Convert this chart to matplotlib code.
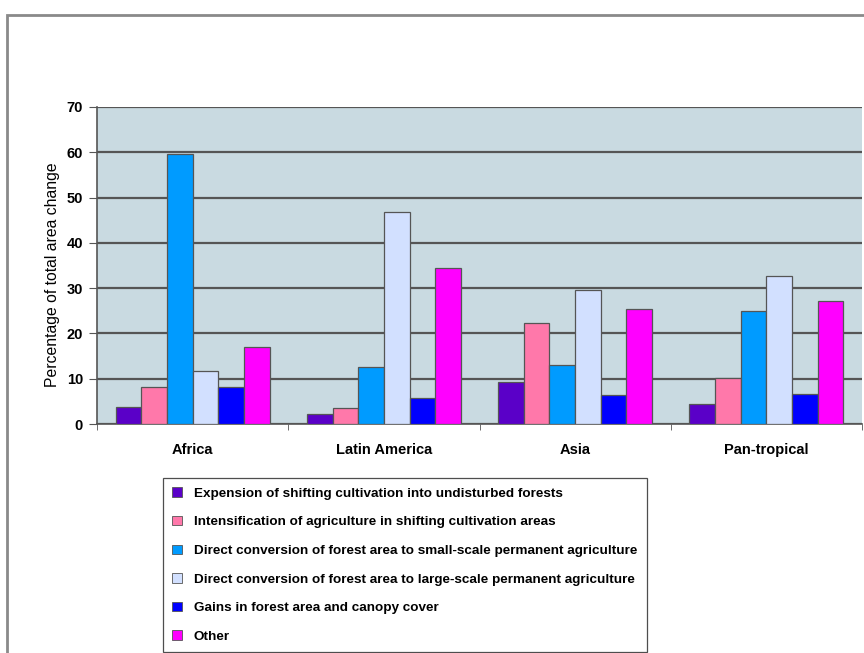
import matplotlib
matplotlib.use("Agg")
import numpy as np
import matplotlib.pyplot as plt
from matplotlib.patches import Patch, Rectangle

plt.rcParams["font.family"] = ["Liberation Sans", "DejaVu Sans"]

# DATA
regions = ["Africa", "Latin America", "Asia", "Pan-tropical"]
series_names = [
    "Expension of shifting cultivation into undisturbed forests",
    "Intensification of agriculture in shifting cultivation areas",
    "Direct conversion of forest area to small-scale permanent agriculture",
    "Direct conversion of forest area to large-scale permanent agriculture",
    "Gains in forest area and canopy cover",
    "Other",
]
expansion = [3.7, 2.2, 9.2, 4.4]
intensification = [8.2, 3.5, 22.4, 10.1]
small_scale = [59.7, 12.5, 13.0, 25.0]
large_scale = [11.7, 46.9, 29.6, 32.7]
gains = [8.2, 5.7, 6.3, 6.6]
other = [17.1, 34.5, 25.5, 27.2]

series = [expansion, intensification, small_scale, large_scale, gains, other]
colors = ["#5a00c8", "#ff78aa", "#009bff", "#d2e0ff", "#0000ff", "#ff00ff"]

fig = plt.figure(figsize=(8.64, 6.53), dpi=100)
ax = fig.add_axes([97 / 864, 1 - 424 / 653, 765 / 864, 317 / 653])

x = np.arange(len(regions))
width = 0.134
for i, (vals, col) in enumerate(zip(series, colors)):
    offset = (i - 2.5) * width
    ax.bar(x + offset, vals, width, color=col, edgecolor="#555555",
           linewidth=0.9, zorder=3)

ax.set_facecolor("#c9dae1")
ax.set_xlim(-0.5, 3.5)
ax.set_ylim(0, 70)
ax.set_yticks(range(0, 71, 10))
ax.yaxis.grid(True, color="#555555", linewidth=1.6, zorder=1)
ax.set_axisbelow(True)

# category labels centred, ticks at group boundaries
ax.set_xticks(x)
ax.set_xticklabels(regions, fontsize=10.5, fontweight="bold")
ax.tick_params(axis="x", length=0, pad=14)
ax.set_xticks(np.arange(-0.5, 4.0, 1.0), minor=True)
ax.tick_params(axis="x", which="minor", length=4, color="#555555", direction="out")
ax.tick_params(axis="y", length=6, color="#555555", labelsize=10.5, pad=4)
for lbl in ax.get_yticklabels():
    lbl.set_fontweight("bold")

for side in ["top", "right"]:
    ax.spines[side].set_visible(False)
ax.spines["left"].set_color("#555555")
ax.spines["bottom"].set_color("#555555")
ax.spines["left"].set_linewidth(1.2)
ax.spines["bottom"].set_linewidth(1.2)

ax.set_ylabel("Percentage of total area change", fontsize=11.3, labelpad=5, y=0.47)

handles = [Patch(facecolor=c, edgecolor="#555555", linewidth=0.6) for c in colors]
leg = fig.legend(handles, series_names, loc="upper left",
                 bbox_to_anchor=(163 / 864, 1 - 478 / 653),
                 fontsize=9.7, frameon=True, fancybox=False, edgecolor="#222222",
                 handlelength=0.7, handleheight=0.7, handletextpad=0.9,
                 labelspacing=1.2, borderpad=0.7, borderaxespad=0)
leg.get_frame().set_linewidth(0.9)
for t in leg.get_texts():
    t.set_fontweight("bold")

# outer chart border
fig.patches.append(Rectangle((7 / 864, -0.05), 1.1, 1 - 15 / 653 + 0.05,
                             transform=fig.transFigure, fill=False,
                             edgecolor="#8a8a8a", linewidth=2.0))

fig.savefig("out.png", dpi=100)
